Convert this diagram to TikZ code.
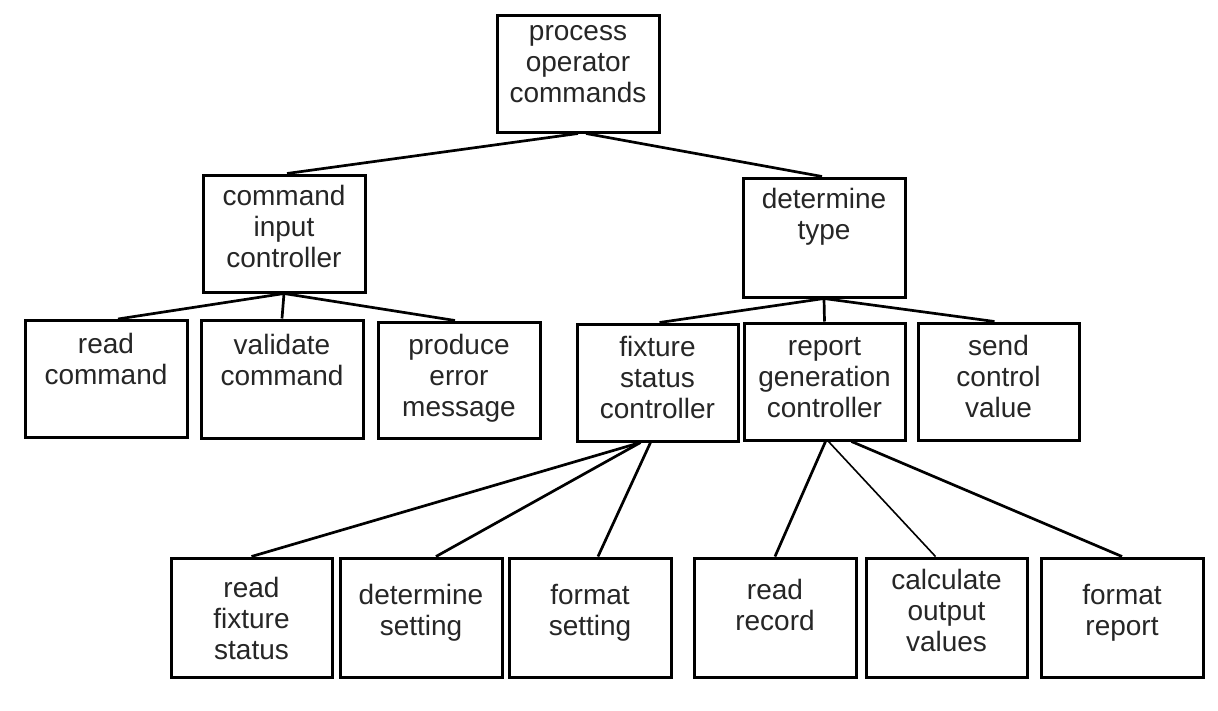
\documentclass[tikz,border=0pt]{standalone}
\usepackage{fontspec}
\setmainfont{Liberation Sans}
\newcommand{\boxfont}{\fontsize{28}{31}\selectfont}
\begin{document}
\begin{tikzpicture}[x=1pt,y=-1pt,
  box/.style={draw=black, line width=3pt, rectangle, inner sep=0pt,
    minimum width=162pt, minimum height=117pt, fill=white},
  txt/.style={anchor=north, align=center, inner sep=0pt, font=\boxfont, text=black!85},
  conn/.style={line width=2.7pt, black},
  thinconn/.style={line width=1.6pt, black}]
\useasboundingbox (0,0) rectangle (1218,710);
\fill[white] (0,0) rectangle (1218,710);

% top
\node[box, label={[txt,yshift=-5pt]north:\strut process\\operator\\commands}] (top) at (578,73.5) {};
% second level
\node[box, label={[txt,yshift=-10pt]north:\strut command\\input\\controller}] (cmd) at (284,233.5) {};
\node[box, minimum height=119pt, label={[txt,yshift=-10.5pt]north:\strut determine\\type}] (det) at (824,237.5) {};
% third level
\node[box, label={[txt,yshift=-13pt]north:\strut read\\command}] (rcmd) at (106,379) {};
\node[box, minimum height=118pt, label={[txt,yshift=-14pt]north:\strut validate\\command}] (val) at (282,379) {};
\node[box, minimum height=116pt, label={[txt,yshift=-12pt]north:\strut produce\\error\\message}] (prod) at (459,380) {};
\node[box, minimum width=161pt, label={[txt,yshift=-12pt]north:\strut fixture\\status\\controller}] (fix) at (657.5,382.5) {};
\node[box, minimum width=161pt, label={[txt,yshift=-12pt]north:\strut report\\generation\\controller}] (rep) at (824.5,381.5) {};
\node[box, minimum width=161pt, label={[txt,yshift=-12pt]north:\strut send\\control\\value}] (send) at (998.5,381.5) {};
% bottom level
\node[box, minimum width=161pt, minimum height=119pt, label={[txt,yshift=-19pt]north:\strut read\\fixture\\status}] (rfs) at (251.5,617.5) {};
\node[box, minimum width=162pt, minimum height=119pt, label={[txt,yshift=-26pt]north:\strut determine\\setting}] (dset) at (421,617.5) {};
\node[box, minimum width=162pt, minimum height=119pt, label={[txt,yshift=-26pt]north:\strut format\\setting}] (fset) at (590,617.5) {};
\node[box, minimum width=162pt, minimum height=119pt, label={[txt,yshift=-21pt]north:\strut read\\record}] (rrec) at (775,617.5) {};
\node[box, minimum width=161pt, minimum height=119pt, label={[txt,yshift=-11pt]north:\strut calculate\\output\\values}] (calc) at (946.5,617.5) {};
\node[box, minimum width=162pt, minimum height=119pt, label={[txt,yshift=-26pt]north:\strut format\\report}] (frep) at (1122,617.5) {};

% connectors
\draw[conn] (top.south) -- ([xshift=3pt]cmd.north);
\draw[conn] ([xshift=8pt]top.south) -- ([xshift=-2pt]det.north);
\draw[conn] (cmd.south) -- ([xshift=12pt]rcmd.north);
\draw[conn] (cmd.south) -- (val.north);
\draw[conn] (cmd.south) -- ([xshift=-4pt]prod.north);
\draw[conn] (det.south) -- ([xshift=2pt]fix.north);
\draw[conn] (det.south) -- (rep.north);
\draw[conn] (det.south) -- ([xshift=-4pt]send.north);
\draw[conn] ([xshift=-17pt]fix.south) -- (rfs.north);
\draw[conn] ([xshift=-17pt]fix.south) -- ([xshift=15pt]dset.north);
\draw[conn] ([xshift=-7pt]fix.south) -- ([xshift=8pt]fset.north);
\draw[conn] ([xshift=1pt]rep.south) -- (rrec.north);
\draw[thinconn] ([xshift=4pt]rep.south) -- ([xshift=-11pt]calc.north);
\draw[conn] ([xshift=27pt]rep.south) -- (frep.north);
\end{tikzpicture}
\end{document}
